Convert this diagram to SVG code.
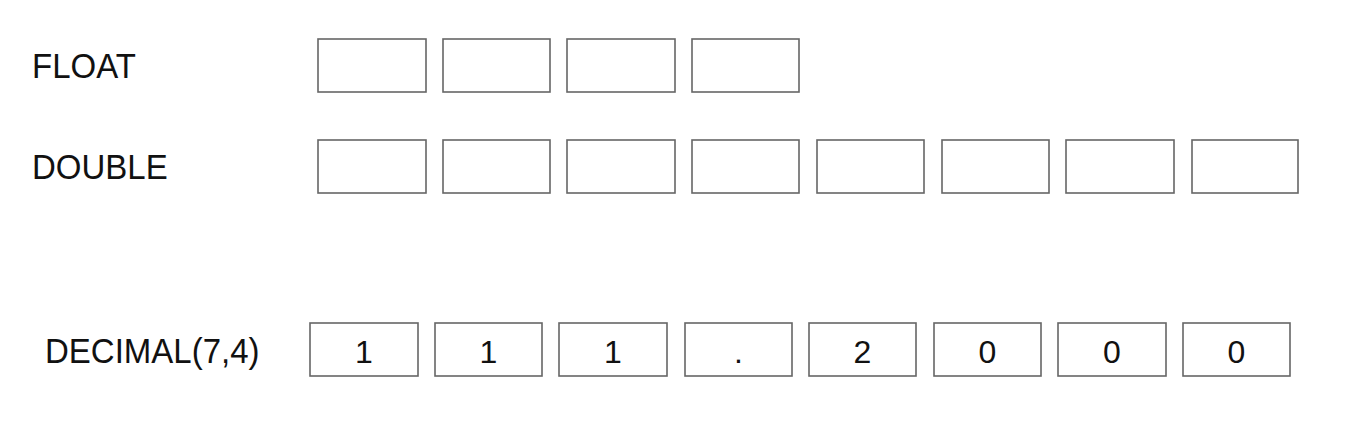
<svg xmlns="http://www.w3.org/2000/svg" width="1370" height="441" viewBox="0 0 1370 441">
<style>
.box{fill:#fff;stroke:#666;stroke-width:1.6}
.lbl{font-family:"Liberation Sans",Arial,sans-serif;font-size:33px;fill:#111}
.dig{font-family:"Liberation Sans",Arial,sans-serif;font-size:32px;fill:#111;text-anchor:middle}
</style>
<rect width="1370" height="441" fill="#fff"/>
<g id="float">
<text class="lbl" x="32" y="78" transform="translate(0,78) scale(1,1.05) translate(0,-78)">FLOAT</text>
<rect class="box" x="318" y="39" width="108" height="53"/>
<rect class="box" x="443" y="39" width="107" height="53"/>
<rect class="box" x="567" y="39" width="108" height="53"/>
<rect class="box" x="692" y="39" width="107" height="53"/>
</g>
<g id="double">
<text class="lbl" x="32" y="179" transform="translate(0,179) scale(1,1.05) translate(0,-179)">DOUBLE</text>
<rect class="box" x="318" y="140" width="108" height="53"/>
<rect class="box" x="443" y="140" width="107" height="53"/>
<rect class="box" x="567" y="140" width="108" height="53"/>
<rect class="box" x="692" y="140" width="107" height="53"/>
<rect class="box" x="817" y="140" width="107" height="53"/>
<rect class="box" x="942" y="140" width="107" height="53"/>
<rect class="box" x="1066" y="140" width="108" height="53"/>
<rect class="box" x="1192" y="140" width="106" height="53"/>
</g>
<g id="decimal">
<text class="lbl" x="45" y="363" transform="translate(0,363) scale(1,1.05) translate(0,-363)">DECIMAL(7,4)</text>
<rect class="box" x="310" y="323" width="108" height="53"/>
<rect class="box" x="435" y="323" width="107" height="53"/>
<rect class="box" x="559" y="323" width="108" height="53"/>
<rect class="box" x="685" y="323" width="107" height="53"/>
<rect class="box" x="809" y="323" width="107" height="53"/>
<rect class="box" x="934" y="323" width="107" height="53"/>
<rect class="box" x="1058" y="323" width="108" height="53"/>
<rect class="box" x="1183" y="323" width="107" height="53"/>
<text class="dig" x="364" y="362.5">1</text>
<text class="dig" x="488.5" y="362.5">1</text>
<text class="dig" x="613" y="362.5">1</text>
<text class="dig" x="738.5" y="362.5">.</text>
<text class="dig" x="862.5" y="362.5">2</text>
<text class="dig" x="987.5" y="362.5">0</text>
<text class="dig" x="1112" y="362.5">0</text>
<text class="dig" x="1236.5" y="362.5">0</text>
</g>
<g id="connectors"></g>
</svg>
